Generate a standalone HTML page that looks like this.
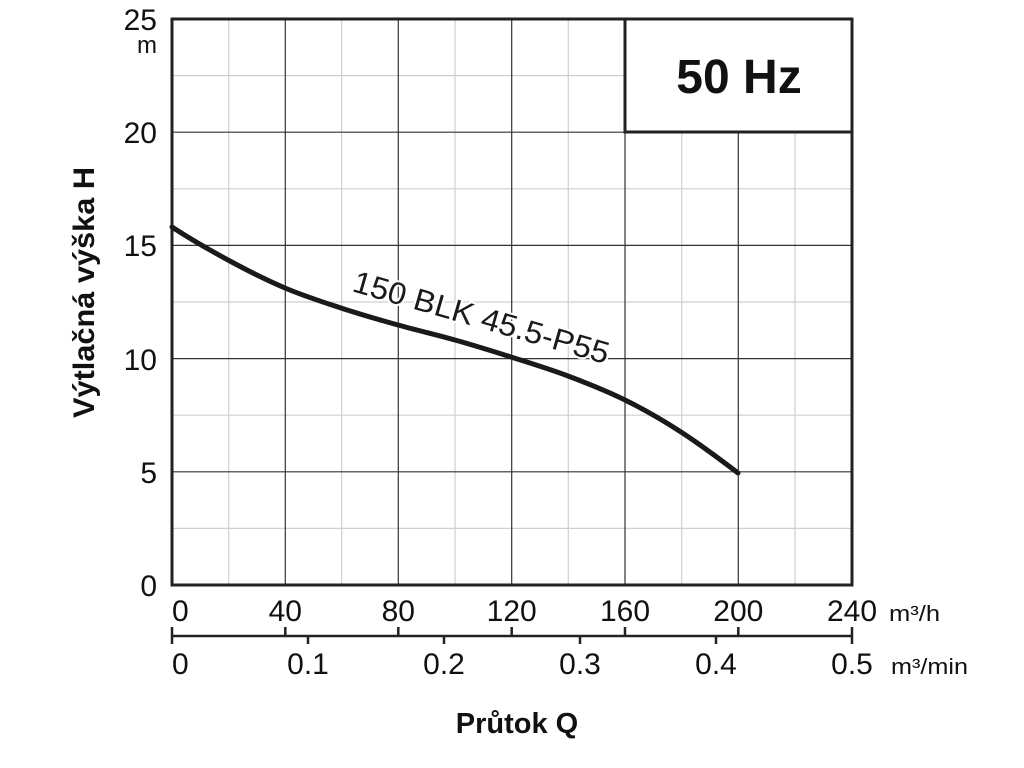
<!DOCTYPE html>
<html>
<head>
<meta charset="utf-8">
<style>
html,body{margin:0;padding:0;background:#fff;}
svg{display:block;}
text{font-family:"Liberation Sans",sans-serif;}
</style>
</head>
<body>
<svg width="1024" height="768" viewBox="0 0 1024 768" xmlns="http://www.w3.org/2000/svg">
<rect width="1024" height="768" fill="#fff"/>
<!-- minor grid -->
<g stroke="#cfcfcf" stroke-width="1.2">
<line x1="228.7" y1="19" x2="228.7" y2="585"/>
<line x1="341.7" y1="19" x2="341.7" y2="585"/>
<line x1="455" y1="19" x2="455" y2="585"/>
<line x1="568.3" y1="19" x2="568.3" y2="585"/>
<line x1="681.7" y1="19" x2="681.7" y2="585"/>
<line x1="795" y1="19" x2="795" y2="585"/>
<line x1="172" y1="528.4" x2="852" y2="528.4"/>
<line x1="172" y1="415.2" x2="852" y2="415.2"/>
<line x1="172" y1="302" x2="852" y2="302"/>
<line x1="172" y1="188.8" x2="852" y2="188.8"/>
<line x1="172" y1="75.6" x2="852" y2="75.6"/>
</g>
<!-- major grid -->
<g stroke="#333" stroke-width="1.2">
<line x1="285.3" y1="19" x2="285.3" y2="585"/>
<line x1="398.3" y1="19" x2="398.3" y2="585"/>
<line x1="511.7" y1="19" x2="511.7" y2="585"/>
<line x1="625" y1="19" x2="625" y2="585"/>
<line x1="738.3" y1="19" x2="738.3" y2="585"/>
<line x1="172" y1="471.8" x2="852" y2="471.8"/>
<line x1="172" y1="358.6" x2="852" y2="358.6"/>
<line x1="172" y1="245.4" x2="852" y2="245.4"/>
<line x1="172" y1="132.2" x2="852" y2="132.2"/>
</g>
<!-- 50 Hz box -->
<rect x="625" y="19" width="227" height="113" fill="#fff" stroke="#222" stroke-width="3"/>
<text x="739" y="93" font-size="48" font-weight="bold" text-anchor="middle" fill="#111">50 Hz</text>
<!-- frame -->
<rect x="172" y="19" width="680" height="566" fill="none" stroke="#222" stroke-width="3"/>
<!-- curve label -->
<text transform="translate(351,291) rotate(16)" x="0" y="0" font-size="31" fill="#1a1a1a" textLength="265" lengthAdjust="spacingAndGlyphs" stroke="#fff" stroke-width="4" paint-order="stroke">150 BLK 45.5-P55</text>
<!-- curve -->
<path d="M172,227 C191,239.5 209.2,249.8 228,260 C246.8,270.2 266.2,280 285,288 C303.8,296 322.2,301.8 341,308 C359.8,314.2 379,319.7 398,325 C417,330.3 436.2,334.7 455,340 C473.8,345.3 492.2,351 511,357 C529.8,363 549,368.8 568,376 C587,383.2 606.2,390.7 625,400 C643.8,409.3 662.2,419.8 681,432 C699.8,444.2 719,458.5 738,473" fill="none" stroke="#1a1a1a" stroke-width="5" stroke-linecap="round"/>
<!-- y tick labels -->
<g font-size="30" fill="#111" text-anchor="end">
<text x="157" y="30">25</text>
<text x="157" y="143">20</text>
<text x="157" y="256">15</text>
<text x="157" y="370">10</text>
<text x="157" y="483">5</text>
<text x="157" y="596">0</text>
</g>
<text x="157" y="53" font-size="24" fill="#111" text-anchor="end">m</text>
<!-- y title -->
<text transform="translate(94,292.5) rotate(-90)" font-size="30" font-weight="bold" text-anchor="middle" fill="#111" textLength="251" lengthAdjust="spacingAndGlyphs">Výtlačná výška H</text>
<!-- x labels m3/h -->
<g font-size="30" fill="#111" text-anchor="middle">
<text x="172" y="621" text-anchor="start">0</text>
<text x="285.3" y="621">40</text>
<text x="398.3" y="621">80</text>
<text x="511.7" y="621">120</text>
<text x="625" y="621">160</text>
<text x="738.3" y="621">200</text>
<text x="852" y="621">240</text>
</g>
<text x="889" y="621" font-size="22" fill="#111" textLength="51" lengthAdjust="spacingAndGlyphs">m³/h</text>
<!-- secondary axis -->
<g stroke="#222" stroke-width="2.5">
<line x1="172" y1="636" x2="852" y2="636"/>
<line x1="172" y1="627" x2="172" y2="644"/>
<line x1="852" y1="627" x2="852" y2="644"/>
<line x1="285.3" y1="627" x2="285.3" y2="636"/>
<line x1="398.3" y1="627" x2="398.3" y2="636"/>
<line x1="511.7" y1="627" x2="511.7" y2="636"/>
<line x1="625" y1="627" x2="625" y2="636"/>
<line x1="738.3" y1="627" x2="738.3" y2="636"/>
<line x1="308" y1="636" x2="308" y2="644"/>
<line x1="444" y1="636" x2="444" y2="644"/>
<line x1="580" y1="636" x2="580" y2="644"/>
<line x1="716" y1="636" x2="716" y2="644"/>
</g>
<g font-size="30" fill="#111" text-anchor="middle">
<text x="172" y="674" text-anchor="start">0</text>
<text x="308" y="674">0.1</text>
<text x="444" y="674">0.2</text>
<text x="580" y="674">0.3</text>
<text x="716" y="674">0.4</text>
<text x="852" y="674">0.5</text>
</g>
<text x="891" y="674" font-size="22" fill="#111" textLength="77" lengthAdjust="spacingAndGlyphs">m³/min</text>
<!-- x title -->
<text x="517" y="733" font-size="29" font-weight="bold" text-anchor="middle" fill="#111">Průtok Q</text>
</svg>
</body>
</html>
